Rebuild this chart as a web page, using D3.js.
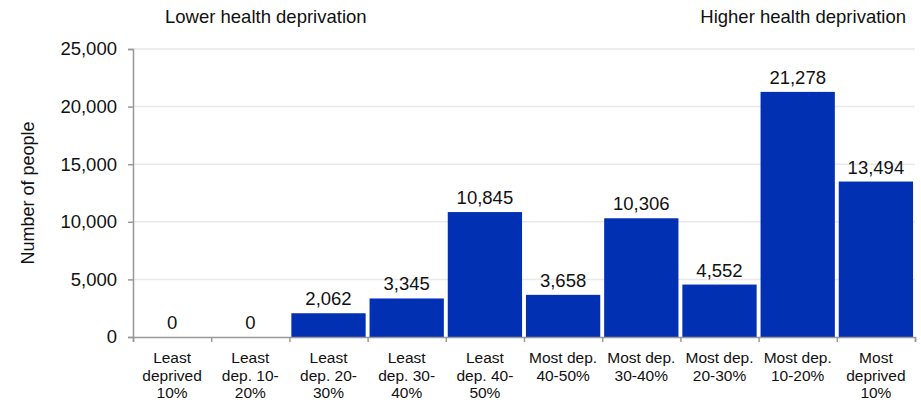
<!DOCTYPE html>
<html>
<head>
<meta charset="utf-8">
<script src="https://cdn.jsdelivr.net/npm/d3@7"></script>
<style>
  body { margin: 0; background: #fff; }
  svg { display: block; font-family: "Liberation Sans", Arial, sans-serif; }
</style>
</head>
<body>
<script>
const width = 921;
const height = 400;
const margin = { top: 49, right: 6, bottom: 63, left: 133 };

const chartWidth = width - margin.left - margin.right;
const chartHeight = height - margin.top - margin.bottom;

// data
const categories = [
  ["Least", "deprived", "10%"],
  ["Least", "dep. 10-", "20%"],
  ["Least", "dep. 20-", "30%"],
  ["Least", "dep. 30-", "40%"],
  ["Least", "dep. 40-", "50%"],
  ["Most dep.", "40-50%"],
  ["Most dep.", "30-40%"],
  ["Most dep.", "20-30%"],
  ["Most dep.", "10-20%"],
  ["Most", "deprived", "10%"]
];
const values = [0, 0, 2062, 3345, 10845, 3658, 10306, 4552, 21278, 13494];
const yTicks = [0, 5000, 10000, 15000, 20000, 25000];

const keys = categories.map((c, i) => i);

const svg = d3.select("body")
  .append("svg")
  .attr("width", width)
  .attr("height", height);

const g = svg.append("g")
  .attr("transform", `translate(${margin.left}, ${margin.top})`);

const x = d3.scaleBand()
  .domain(keys)
  .range([0, chartWidth])
  .paddingInner(0.05)
  .paddingOuter(0.025);

const xTickScale = d3.scaleLinear()
  .domain([0, categories.length])
  .range([0, chartWidth]);

const y = d3.scaleLinear()
  .domain([0, 25000])
  .range([chartHeight, 0]);

// gridlines
g.append("g")
  .selectAll("line")
  .data(yTicks.filter(d => d > 0))
  .enter()
  .append("line")
    .attr("x1", 0)
    .attr("x2", chartWidth)
    .attr("y1", d => y(d))
    .attr("y2", d => y(d))
    .attr("stroke", "#e9e9e9")
    .attr("stroke-width", 1.5);

// bars
g.selectAll("rect")
  .data(values)
  .enter()
  .append("rect")
    .attr("x", (d, i) => x(i))
    .attr("y", d => y(d))
    .attr("width", x.bandwidth())
    .attr("height", d => chartHeight - y(d))
    .attr("fill", "#0230b3");

// value labels
g.selectAll(".val")
  .data(values)
  .enter()
  .append("text")
    .attr("class", "val")
    .attr("x", (d, i) => x(i) + x.bandwidth() / 2)
    .attr("y", d => y(d) - 8)
    .attr("text-anchor", "middle")
    .attr("font-size", "18.5px")
    .attr("fill", "#111")
    .text(d => d3.format(",")(d));

// y axis
const yAxis = d3.axisLeft(y)
  .tickValues(yTicks)
  .tickSize(5)
  .tickPadding(11)
  .tickFormat(d3.format(","));
const yg = g.append("g").call(yAxis);
yg.select(".domain").attr("stroke", "#999").attr("stroke-width", 1.5);
yg.selectAll(".tick line").attr("stroke", "#999").attr("stroke-width", 1.5);
yg.selectAll("text").attr("font-size", "18.5px").attr("fill", "#111");

// x axis (ticks at band edges)
const xAxis = d3.axisBottom(xTickScale)
  .tickValues(d3.range(categories.length + 1))
  .tickSize(5)
  .tickFormat("");
const xg = g.append("g")
  .attr("transform", `translate(0, ${chartHeight})`)
  .call(xAxis);
xg.select(".domain").attr("stroke", "#999").attr("stroke-width", 1.5);
xg.selectAll(".tick line").attr("stroke", "#999").attr("stroke-width", 1.5);

// category labels
const catLabels = g.append("g")
  .selectAll("text")
  .data(categories)
  .enter()
  .append("text")
    .attr("x", (d, i) => x(i) + x.bandwidth() / 2)
    .attr("y", chartHeight + 26)
    .attr("text-anchor", "middle")
    .attr("font-size", "15.5px")
    .attr("fill", "#111");
catLabels.selectAll("tspan")
  .data(d => d)
  .enter()
  .append("tspan")
    .attr("x", function () { return d3.select(this.parentNode).attr("x"); })
    .attr("dy", (d, i) => i === 0 ? 0 : 17.5)
    .text(d => d);

// y axis title
g.append("text")
  .attr("transform", "rotate(-90)")
  .attr("x", -chartHeight / 2)
  .attr("y", -margin.left + 34)
  .attr("text-anchor", "middle")
  .attr("font-size", "18px")
  .attr("fill", "#111")
  .text("Number of people");

// direction labels
svg.append("text")
  .attr("x", 165)
  .attr("y", 23)
  .attr("font-size", "18.5px")
  .attr("fill", "#111")
  .text("Lower health deprivation");

svg.append("text")
  .attr("x", 906)
  .attr("y", 23)
  .attr("text-anchor", "end")
  .attr("font-size", "18.5px")
  .attr("fill", "#111")
  .text("Higher health deprivation");
</script>
</body>
</html>
